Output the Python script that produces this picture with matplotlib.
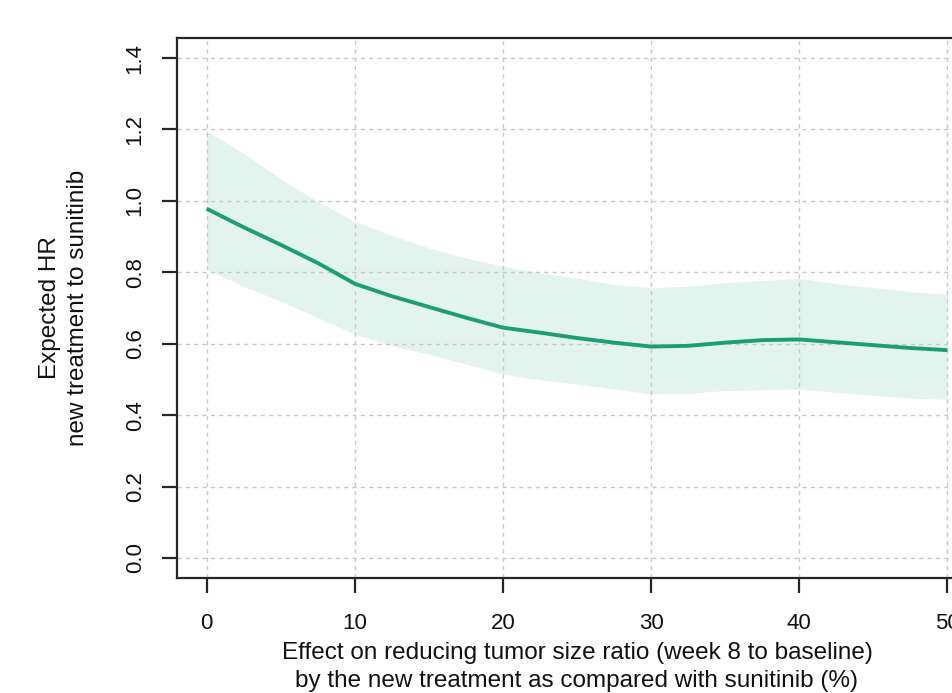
import numpy as np
import matplotlib
matplotlib.use('Agg')
import matplotlib.pyplot as plt

plt.rcParams['font.family'] = ['Liberation Sans', 'DejaVu Sans']

# effect on tumour size ratio (%) and expected HR with its band
effect = [0, 2.5, 5, 7.5, 10, 12.5, 15, 17.5, 20, 22.5, 25, 27.5,
          30, 32.5, 35, 37.5, 40, 42.5, 45, 47.5, 50]
hr_mid = [0.978, 0.926, 0.877, 0.826, 0.768, 0.733, 0.703, 0.673, 0.645,
          0.631, 0.616, 0.603, 0.592, 0.594, 0.603, 0.610, 0.612, 0.604,
          0.596, 0.588, 0.582]
hr_hi = [1.195, 1.133, 1.061, 0.998, 0.942, 0.903, 0.868, 0.840, 0.817,
         0.798, 0.784, 0.766, 0.757, 0.761, 0.771, 0.777, 0.783, 0.768,
         0.757, 0.746, 0.738]
hr_lo = [0.808, 0.761, 0.719, 0.673, 0.627, 0.594, 0.571, 0.543, 0.515,
         0.499, 0.487, 0.473, 0.460, 0.461, 0.469, 0.471, 0.473, 0.464,
         0.455, 0.448, 0.444]

x_ticks = [0, 10, 20, 30, 40, 50]
y_ticks = [0.0, 0.2, 0.4, 0.6, 0.8, 1.0, 1.2, 1.4]

COL_LINE = '#1b9e77'
COL_BAND = '#e3f4ee'
COL_AX = '#262626'
FS_TICK = 16
FS_LAB = 17.5

W, H = 953, 693
fig = plt.figure(figsize=(W / 100, H / 100), dpi=100)
# axes run past the right edge of the picture, as in the reference
ax = fig.add_axes([177 / W, 1 - 578 / H, 800 / W, 540 / H])

ax.fill_between(effect, hr_lo, hr_hi, color=COL_BAND, lw=0, zorder=1)
ax.plot(effect, hr_mid, color=COL_LINE, lw=2.8, zorder=3,
        solid_capstyle='butt')

ax.set_xlim(-2, 52)
ax.set_ylim(-0.056, 1.456)
ax.set_xticks(x_ticks)
ax.set_yticks(y_ticks)
ax.set_yticklabels([f'{v:.1f}' for v in y_ticks], rotation=90, va='center')

for v in x_ticks:
    ax.axvline(v, color='#c8c8c8', lw=1.0, ls=(0, (3, 3)), zorder=2)
for v in y_ticks:
    ax.axhline(v, color='#c8c8c8', lw=1.0, ls=(0, (3, 3)), zorder=2)

for sp in ax.spines.values():
    sp.set_color(COL_AX)
    sp.set_linewidth(1.6)
ax.tick_params(axis='both', direction='out', length=11, width=1.6,
               color=COL_AX, labelsize=FS_TICK, labelcolor='#111111')
ax.tick_params(axis='x', pad=14)
ax.tick_params(axis='y', pad=11.5)

fig.text(64 / W, 1 - 308 / H, 'Expected HR\nnew treatment to sunitinib',
         rotation=90, ha='center', va='center', fontsize=FS_LAB,
         multialignment='center', linespacing=1.3, color='#111111')
fig.text(577 / W, 1 - 667 / H,
         'Effect on reducing tumor size ratio (week 8 to baseline)\n'
         'by the new treatment as compared with sunitinib (%)',
         ha='center', va='center', fontsize=FS_LAB, multialignment='center',
         linespacing=1.3, color='#111111')

fig.savefig('out.png', dpi=100)
